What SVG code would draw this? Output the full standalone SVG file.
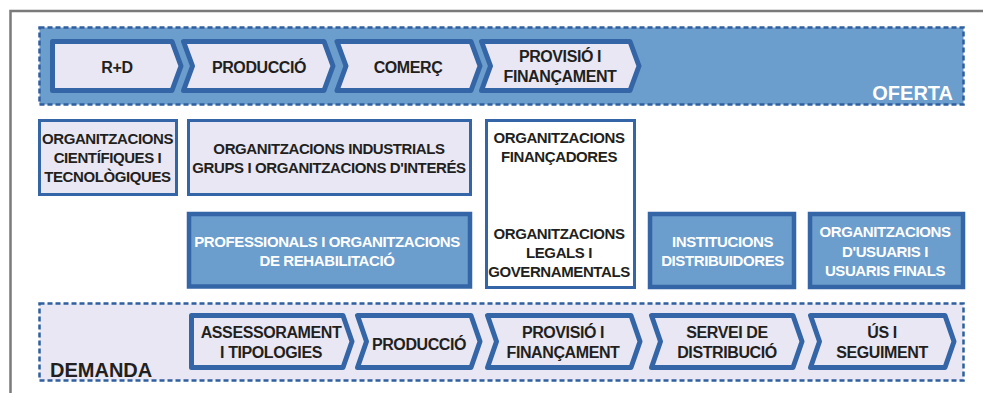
<svg xmlns="http://www.w3.org/2000/svg" width="983" height="393" viewBox="0 0 983 393">
<style>
text{font-family:"Liberation Sans",Arial,sans-serif;font-weight:bold;text-anchor:middle;fill:#231f20}
.t16{font-size:16px;letter-spacing:-0.4px}
.t15{font-size:15px;letter-spacing:-0.4px}
.w{fill:#ffffff}
.chev{fill:#e8e7f3;stroke:#3465a6;stroke-width:5;stroke-linejoin:round}
.zone{stroke:#2f5f9f;stroke-width:2.5;stroke-dasharray:5 3}
.box{stroke:#3465a6;stroke-width:3}
.boxd{fill:#6b9dcd;stroke:#3465a6;stroke-width:4.5}
</style>
<g id="frame" fill="none" stroke="#7a7a7a" stroke-width="2.5">
<path d="M983,11 H10.5 V393"/>
</g>
<g id="oferta">
<rect class="zone" x="39.5" y="27.5" width="924" height="77" fill="#6b9dcd"/>
<text class="w" x="953" y="100" style="font-size:20px;text-anchor:end">OFERTA</text>
</g>
<g id="demanda">
<rect class="zone" x="39.5" y="303.5" width="924" height="77" fill="#e8e7f3"/>
<text x="50" y="377" style="font-size:20px;text-anchor:start">DEMANDA</text>
</g>
<g id="o-rd">
<path class="chev" d="M52.5,41.5 H172 L181,66 L172,90.5 H52.5 Z"/>
<text class="t16" x="117" y="72.5">R+D</text>
</g>
<g id="o-produccio">
<path class="chev" d="M183.5,41.5 H324 L333,66 L324,90.5 H183.5 L192.5,66 Z"/>
<text class="t16" x="259" y="72.5">PRODUCCIÓ</text>
</g>
<g id="o-comerc">
<path class="chev" d="M337,41.5 H471 L480,66 L471,90.5 H337 L346,66 Z"/>
<text class="t16" x="408" y="72.5">COMERÇ</text>
</g>
<g id="o-provisio">
<path class="chev" d="M481.5,41.5 H630 L639,66 L630,90.5 H481.5 L490.5,66 Z"/>
<text class="t16" x="560" y="61.5">PROVISIÓ I</text>
<text class="t16" x="560" y="81.5">FINANÇAMENT</text>
</g>
<g id="org-cientifiques">
<rect class="box" x="39.5" y="120.5" width="137" height="74" fill="#e8e7f3"/>
<text class="t15" x="107.5" y="144">ORGANITZACIONS</text>
<text class="t15" x="107.5" y="163">CIENTÍFIQUES I</text>
<text class="t15" x="107.5" y="182">TECNOLÒGIQUES</text>
</g>
<g id="org-industrials">
<rect class="box" x="188.5" y="120.5" width="282" height="74" fill="#e8e7f3"/>
<text class="t15" x="329" y="154">ORGANITZACIONS INDUSTRIALS</text>
<text class="t15" x="329" y="173">GRUPS I ORGANITZACIONS D'INTERÉS</text>
</g>
<g id="professionals">
<rect class="boxd" x="189" y="214" width="281" height="72.5"/>
<text class="t15 w" x="327" y="247">PROFESSIONALS I ORGANITZACIONS</text>
<text class="t15 w" x="327" y="266">DE REHABILITACIÓ</text>
</g>
<g id="org-financadores-legals">
<rect class="box" x="486.5" y="120.5" width="148" height="167" fill="#ffffff"/>
<text class="t15" x="559" y="142.5">ORGANITZACIONS</text>
<text class="t15" x="559" y="161.5">FINANÇADORES</text>
<text class="t15" x="559" y="239">ORGANITZACIONS</text>
<text class="t15" x="559" y="258">LEGALS I</text>
<text class="t15" x="559" y="276.5">GOVERNAMENTALS</text>
</g>
<g id="institucions">
<rect class="boxd" x="650" y="214" width="144" height="73"/>
<text class="t15 w" x="722.5" y="246.5">INSTITUCIONS</text>
<text class="t15 w" x="722.5" y="266">DISTRIBUIDORES</text>
</g>
<g id="usuaris">
<rect class="boxd" x="810" y="214" width="153" height="73"/>
<text class="t15 w" x="885" y="236.5">ORGANITZACIONS</text>
<text class="t15 w" x="885" y="256.5">D'USUARIS I</text>
<text class="t15 w" x="885" y="275.5">USUARIS FINALS</text>
</g>
<g id="d-assessorament">
<path class="chev" d="M191.5,315.5 H343 L352,341.5 L343,367.5 H191.5 Z"/>
<text class="t16" x="271" y="337.5">ASSESSORAMENT</text>
<text class="t16" x="271" y="358">I TIPOLOGIES</text>
</g>
<g id="d-produccio">
<path class="chev" d="M357.5,315.5 H471 L480,341.5 L471,367.5 H357.5 L366.5,341.5 Z"/>
<text class="t16" x="419" y="349.5">PRODUCCIÓ</text>
</g>
<g id="d-provisio">
<path class="chev" d="M487.5,315.5 H631 L640,341.5 L631,367.5 H487.5 L496.5,341.5 Z"/>
<text class="t16" x="563" y="337.5">PROVISIÓ I</text>
<text class="t16" x="563" y="358">FINANÇAMENT</text>
</g>
<g id="d-servei">
<path class="chev" d="M651.5,315.5 H793 L802,341.5 L793,367.5 H651.5 L660.5,341.5 Z"/>
<text class="t16" x="727" y="337.5">SERVEI DE</text>
<text class="t16" x="727" y="358">DISTRIBUCIÓ</text>
</g>
<g id="d-us">
<path class="chev" d="M810.5,315.5 H945 L954,341.5 L945,367.5 H810.5 L819.5,341.5 Z"/>
<text class="t16" x="882" y="337.5">ÚS I</text>
<text class="t16" x="882" y="358">SEGUIMENT</text>
</g>
<g id="connectors"/>
</svg>
